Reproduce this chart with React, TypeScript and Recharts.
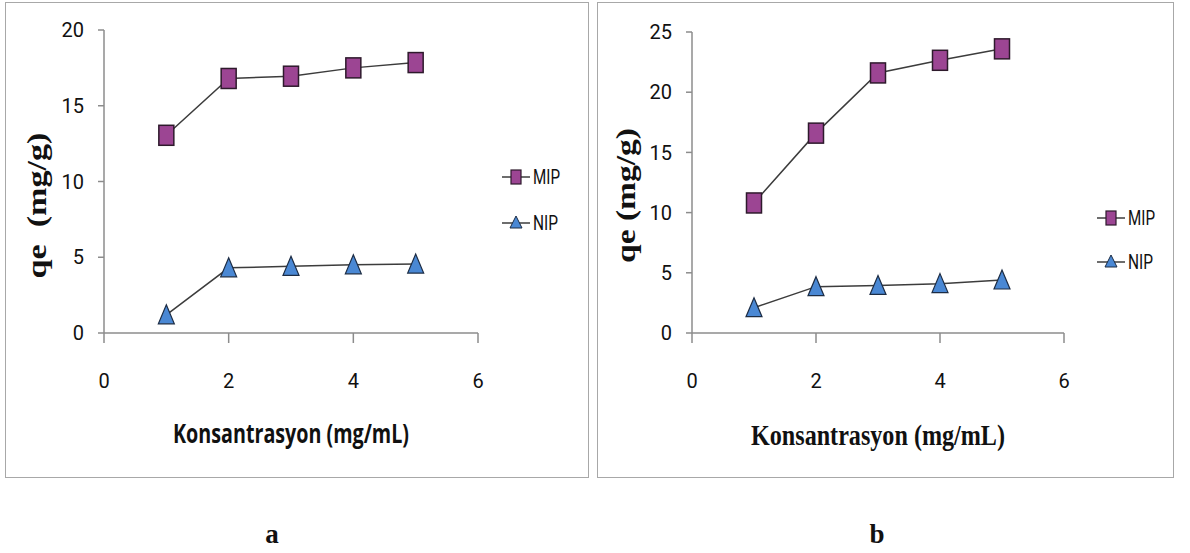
import React from "react";
import { LineChart, Line, XAxis, YAxis, Legend } from "recharts";

// concentration steps (mg/mL)
const concentrations = [1, 2, 3, 4, 5];
const xTicks = [0, 2, 4, 6];

// panel a
const mipA = [13.05, 16.8, 16.95, 17.5, 17.85];
const nipA = [1.2, 4.3, 4.4, 4.5, 4.55];
const yTicksA = [0, 5, 10, 15, 20];

// panel b
const mipB = [10.8, 16.6, 21.6, 22.65, 23.6];
const nipB = [2.1, 3.85, 3.95, 4.1, 4.4];
const yTicksB = [0, 5, 10, 15, 20, 25];

const seriesNames = ["MIP", "NIP"];

const MIP_FILL = "#9c4593";
const MIP_EDGE = "#2e1a2c";
const NIP_FILL = "#4a88d4";
const NIP_EDGE = "#1c2c44";
const LINE = "#3c3c3c";
const AXIS = "#8c8c8c";

const toRows = (mip: number[], nip: number[]) =>
  concentrations.map((c, i) => ({ x: c, MIP: mip[i], NIP: nip[i] }));

const SquareDot = (props: any) => {
  const { cx, cy } = props;
  if (cx == null || cy == null) return null;
  return (
    <rect x={cx - 7.5} y={cy - 10} width={15} height={20} fill={MIP_FILL} stroke={MIP_EDGE} strokeWidth={1.5} />
  );
};

const TriangleDot = (props: any) => {
  const { cx, cy } = props;
  if (cx == null || cy == null) return null;
  return (
    <polygon
      points={`${cx},${cy - 10} ${cx + 8},${cy + 9} ${cx - 8},${cy + 9}`}
      fill={NIP_FILL}
      stroke={NIP_EDGE}
      strokeWidth={1.2}
    />
  );
};

const LegendBox = ({ gap, font }: { gap: number; font: string }) => (
  <svg width={90} height={100}>
    {seriesNames.map((name, i) => {
      const y = 22 + i * gap;
      return (
        <g key={name}>
          <line x1={12} x2={40} y1={y} y2={y} stroke={LINE} strokeWidth={1.5} />
          {i === 0 ? (
            <rect x={21} y={y - 7} width={10} height={14} fill={MIP_FILL} stroke={MIP_EDGE} strokeWidth={1.2} />
          ) : (
            <polygon
              points={`26,${y - 7} 32,${y + 5} 20,${y + 5}`}
              fill={NIP_FILL}
              stroke={NIP_EDGE}
              strokeWidth={1}
            />
          )}
          <text
            x={43}
            y={y + 7}
            fontFamily={font}
            fontSize={20}
            fill="#111"
            textLength={i === 0 ? 27 : 25}
            lengthAdjust="spacingAndGlyphs"
          >
            {name}
          </text>
        </g>
      );
    })}
  </svg>
);

const XTitle = (props: any) => {
  const { viewBox, text, font, weight, size, len, dy } = props;
  return (
    <text
      x={viewBox.x + viewBox.width / 2}
      y={viewBox.y + dy}
      textAnchor="middle"
      fontFamily={font}
      fontWeight={weight}
      fontSize={size}
      fill="#111"
      textLength={len}
      lengthAdjust="spacingAndGlyphs"
    >
      {text}
    </text>
  );
};

const YTitle = (props: any) => {
  const { viewBox, text, bx, shift, len } = props;
  const cx = viewBox.x + bx;
  const cy = viewBox.y + viewBox.height / 2 + shift;
  return (
    <text
      x={cx}
      y={cy}
      transform={`rotate(-90 ${cx} ${cy})`}
      textAnchor="middle"
      fontFamily="'Liberation Serif', serif"
      fontWeight="bold"
      fontSize={28}
      fill="#111"
      textLength={len}
      lengthAdjust="spacingAndGlyphs"
      style={{ whiteSpace: "pre" }}
    >
      {text}
    </text>
  );
};

const tickStyle = { fontFamily: "Roboto, sans-serif", fontSize: 20, fill: "#111" };

type PanelProps = {
  mip: number[];
  nip: number[];
  yTicks: number[];
  width: number;
  top: number;
  right: number;
  yAxisWidth: number;
  yTitle: string;
  yTitleLen: number;
  yTitleX: number;
  yTitleShift: number;
  xTitle: React.ReactElement;
  legendTop: number;
  legendGap: number;
};

const Panel = (p: PanelProps) => (
  <LineChart
    width={p.width}
    height={480}
    data={toRows(p.mip, p.nip)}
    margin={{ top: p.top, right: p.right, bottom: 0, left: 0 }}
  >
    <XAxis
      type="number"
      dataKey="x"
      domain={[0, 6]}
      ticks={xTicks}
      height={147}
      tickSize={10}
      tickMargin={31}
      tick={tickStyle}
      axisLine={{ stroke: AXIS, strokeWidth: 1.5 }}
      tickLine={{ stroke: AXIS, strokeWidth: 1.5 }}
      label={p.xTitle}
    />
    <YAxis
      type="number"
      domain={[0, p.yTicks[p.yTicks.length - 1]]}
      ticks={p.yTicks}
      width={p.yAxisWidth}
      tickSize={6}
      tickMargin={14}
      tick={tickStyle}
      axisLine={{ stroke: AXIS, strokeWidth: 1.5 }}
      tickLine={{ stroke: AXIS, strokeWidth: 1.5 }}
      label={<YTitle text={p.yTitle} bx={p.yTitleX} shift={p.yTitleShift} len={p.yTitleLen} />}
    />
    <Legend
      layout="vertical"
      align="center"
      verticalAlign="middle"
      wrapperStyle={{ left: 490, top: p.legendTop, width: 90 }}
      content={() => <LegendBox gap={p.legendGap} font="Roboto, sans-serif" />}
    />
    <Line
      dataKey="MIP"
      stroke={LINE}
      strokeWidth={1.5}
      dot={<SquareDot />}
      activeDot={false}
      isAnimationActive={false}
    />
    <Line
      dataKey="NIP"
      stroke={LINE}
      strokeWidth={1.5}
      dot={<TriangleDot />}
      activeDot={false}
      isAnimationActive={false}
    />
  </LineChart>
);

const frame: React.CSSProperties = {
  position: "absolute",
  top: 2,
  height: 476,
  border: "1.5px solid #a8a8a8",
  boxSizing: "border-box",
};

const caption: React.CSSProperties = {
  position: "absolute",
  top: 519,
  width: 40,
  textAlign: "center",
  fontFamily: "'Liberation Serif', serif",
  fontWeight: "bold",
  fontSize: 27,
  color: "#111",
};

export default function App() {
  return (
    <div style={{ position: "absolute", left: 0, top: 0, width: 1190, height: 553, background: "#fff" }}>
      <div style={{ ...frame, left: 5, width: 584 }} />
      <div style={{ ...frame, left: 597, width: 577 }} />
      <div style={{ position: "absolute", left: 0, top: 0 }}>
        <Panel
          mip={mipA}
          nip={nipA}
          yTicks={yTicksA}
          width={590}
          top={30}
          right={112}
          yAxisWidth={104}
          yTitle="qe  (mg/g)"
          yTitleLen={146}
          yTitleX={46}
          yTitleShift={24}
          xTitle={
            <XTitle
              text="Konsantrasyon (mg/mL)"
              font="'Open Sans', sans-serif"
              weight={700}
              size={26}
              len={236}
              dy={110}
            />
          }
          legendTop={155}
          legendGap={46}
        />
      </div>
      <div style={{ position: "absolute", left: 595, top: 0 }}>
        <Panel
          mip={mipB}
          nip={nipB}
          yTicks={yTicksB}
          width={595}
          top={32}
          right={126}
          yAxisWidth={97}
          yTitle="qe (mg/g)"
          yTitleLen={135}
          yTitleX={40}
          yTitleShift={13}
          xTitle={
            <XTitle
              text="Konsantrasyon (mg/mL)"
              font="'Liberation Serif', serif"
              weight="bold"
              size={29}
              len={254}
              dy={112}
            />
          }
          legendTop={196}
          legendGap={44}
        />
      </div>
      <div style={{ ...caption, left: 252 }}>a</div>
      <div style={{ ...caption, left: 857 }}>b</div>
    </div>
  );
}
